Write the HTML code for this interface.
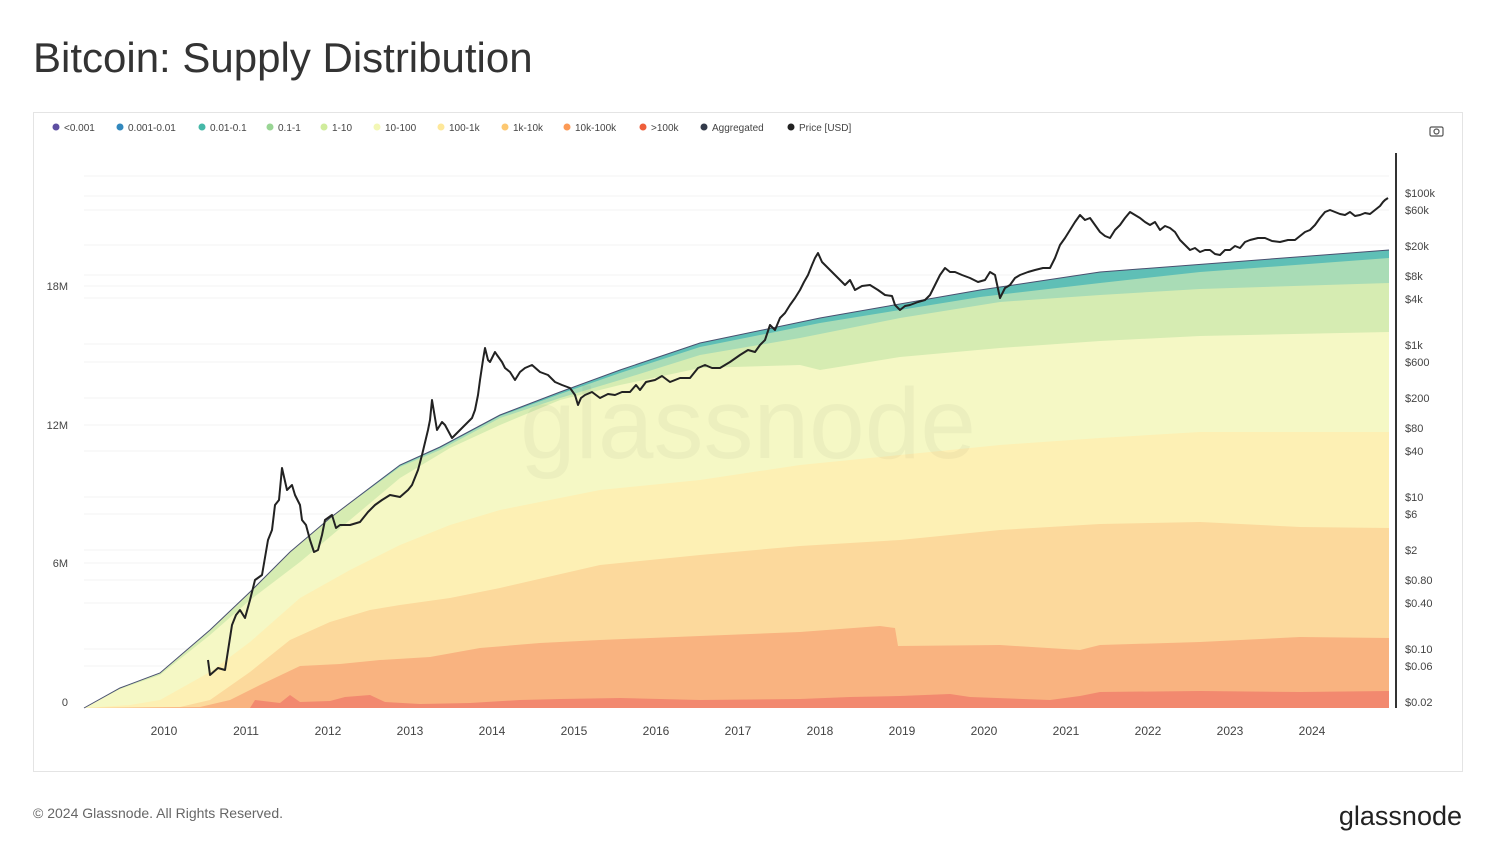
<!DOCTYPE html>
<html><head><meta charset="utf-8"><style>
body{margin:0;background:#fff;font-family:"Liberation Sans",sans-serif;}
</style></head><body>
<svg width="1495" height="861" xmlns="http://www.w3.org/2000/svg" font-family="Liberation Sans, sans-serif">
<rect width="1495" height="861" fill="#fff"/>
<text x="33" y="72" font-size="42" fill="#333">Bitcoin: Supply Distribution</text>
<rect x="33.5" y="112.5" width="1429" height="659" fill="none" stroke="#e4e4e4"/>
<g font-size="10" fill="#444">
<circle cx="56" cy="127" r="3.5" fill="#5e4fa2"/><text x="64" y="131">&lt;0.001</text>
<circle cx="120" cy="127" r="3.5" fill="#3288bd"/><text x="128" y="131">0.001-0.01</text>
<circle cx="202" cy="127" r="3.5" fill="#45b8a8"/><text x="210" y="131">0.01-0.1</text>
<circle cx="270" cy="127" r="3.5" fill="#99d594"/><text x="278" y="131">0.1-1</text>
<circle cx="324" cy="127" r="3.5" fill="#d0ec9c"/><text x="332" y="131">1-10</text>
<circle cx="377" cy="127" r="3.5" fill="#f3f7b5"/><text x="385" y="131">10-100</text>
<circle cx="441" cy="127" r="3.5" fill="#fee89a"/><text x="449" y="131">100-1k</text>
<circle cx="505" cy="127" r="3.5" fill="#fdc871"/><text x="513" y="131">1k-10k</text>
<circle cx="567" cy="127" r="3.5" fill="#fc9a55"/><text x="575" y="131">10k-100k</text>
<circle cx="643" cy="127" r="3.5" fill="#ee5e3a"/><text x="651" y="131">&gt;100k</text>
<circle cx="704" cy="127" r="3.5" fill="#333a4a"/><text x="712" y="131">Aggregated</text>
<circle cx="791" cy="127" r="3.5" fill="#222"/><text x="799" y="131">Price [USD]</text>
</g>
<g fill="none" stroke="#555" stroke-width="1.2"><rect x="1430" y="127" width="13" height="9" rx="1.5"/><circle cx="1436.5" cy="131.5" r="2.5"/></g>
<g stroke="#f3f3f3" stroke-width="1">
<line x1="84" x2="1389" y1="286" y2="286"/><line x1="84" x2="1389" y1="425" y2="425"/><line x1="84" x2="1389" y1="563" y2="563"/>
<line x1="84" x2="1389" y1="176" y2="176"/><line x1="84" x2="1389" y1="196" y2="196"/><line x1="84" x2="1389" y1="210" y2="210"/><line x1="84" x2="1389" y1="245" y2="245"/><line x1="84" x2="1389" y1="275" y2="275"/><line x1="84" x2="1389" y1="298" y2="298"/><line x1="84" x2="1389" y1="344" y2="344"/><line x1="84" x2="1389" y1="362" y2="362"/><line x1="84" x2="1389" y1="398" y2="398"/><line x1="84" x2="1389" y1="451" y2="451"/><line x1="84" x2="1389" y1="497" y2="497"/><line x1="84" x2="1389" y1="514" y2="514"/><line x1="84" x2="1389" y1="550" y2="550"/><line x1="84" x2="1389" y1="580" y2="580"/><line x1="84" x2="1389" y1="603" y2="603"/><line x1="84" x2="1389" y1="649" y2="649"/><line x1="84" x2="1389" y1="666" y2="666"/>
</g>
<polygon fill="#5fbfb6" points="84,708 120,688 160,673 210,630 250,592 290,552 330,518 400,465 440,447 500,415 560,392 620,370 700,343 820,318 980,290 1100,272 1389,250 1389,708"/>
<polygon fill="#a9dcb6" points="84,708 120,688 160,673 210,630 250,592 290,552 330,518 400,466 440,448 500,416 560,394 620,373 700,347 820,323 980,297 1100,283 1200,272 1389,258 1389,708"/>
<polygon fill="#d6ecb2" points="84,708 120,688 160,673 210,630 250,592 290,552 330,518 400,467 440,450 500,418 560,398 620,380 700,355 800,338 900,318 1000,302 1100,295 1200,289 1389,283 1389,708"/>
<polygon fill="#f5f8c5" points="84,708 120,689 160,675 210,635 250,600 300,562 350,520 400,478 450,448 500,425 560,400 620,385 700,368 800,365 820,370 900,357 1000,348 1100,341 1200,336 1389,332 1389,708"/>
<polygon fill="#fdf0b4" points="84,708 130,705 160,700 210,672 250,642 300,598 350,570 400,545 450,525 500,510 600,490 700,480 800,465 900,455 1000,445 1100,438 1200,432 1389,432 1389,708"/>
<polygon fill="#fcd99c" points="84,708 180,707 210,700 250,672 290,640 330,622 370,610 400,605 450,598 500,588 600,565 700,555 800,546 900,540 1000,530 1100,524 1200,522 1300,527 1389,528 1389,708"/>
<polygon fill="#f9b380" points="84,708 200,707 230,700 260,685 300,666 340,664 380,660 430,657 480,648 540,643 600,640 700,636 800,632 880,626 895,628 898,646 1000,645 1080,650 1100,645 1200,642 1300,637 1389,638 1389,708"/>
<polygon fill="#f2896f" points="84,708 250,708 255,700 280,703 290,695 300,702 330,701 345,697 370,695 385,702 420,704 470,703 520,700 560,699 620,698 700,700 800,699 850,697 900,696 950,694 970,697 1050,700 1080,696 1100,692 1200,691 1300,692 1389,691 1389,708"/>
<polyline fill="none" stroke="#4a5070" stroke-width="1" points="84,708 120,688 160,673 210,630 250,592 290,552 330,518 400,465 440,447 500,415 560,392 620,370 700,343 820,318 980,290 1100,272 1389,250"/>
<text x="748" y="458" font-size="100" fill="#000" fill-opacity="0.035" text-anchor="middle">glassnode</text>
<polyline fill="none" stroke="#222" stroke-width="2" stroke-linejoin="round" points="208,660 210,675 218,668 225,670 232,625 236,615 240,610 245,618 250,600 255,580 262,575 268,540 272,530 275,505 279,500 282,468 287,490 292,485 295,495 300,505 302,520 306,525 310,540 314,552 318,550 322,535 325,520 332,515 336,528 340,525 350,525 360,522 368,512 375,505 382,500 390,495 400,497 408,490 412,485 418,470 422,455 428,430 430,420 432,400 435,418 437,430 442,422 445,425 452,438 460,430 465,425 472,418 475,410 478,395 480,380 483,360 485,348 488,360 490,362 495,352 497,355 502,362 505,368 510,372 515,380 520,372 525,368 532,365 540,372 548,375 555,382 562,385 570,388 575,395 578,405 581,398 585,395 592,392 600,398 608,394 615,395 622,392 630,392 636,385 640,390 646,382 655,380 662,376 670,382 680,378 690,378 698,368 705,365 712,368 720,368 730,362 740,355 748,350 755,352 760,345 765,340 770,325 775,330 780,318 785,313 790,305 795,298 800,290 804,282 808,275 812,265 815,258 818,253 822,262 825,265 830,270 835,275 840,280 845,285 850,280 855,290 862,286 870,285 878,290 885,295 892,296 895,305 900,310 905,306 910,305 918,302 925,300 930,295 935,285 940,275 945,268 950,272 955,272 962,275 970,278 978,282 985,280 990,272 995,275 1000,298 1005,288 1010,285 1015,278 1020,275 1028,272 1035,270 1043,268 1050,268 1055,258 1060,245 1065,238 1070,230 1075,222 1080,215 1085,220 1090,218 1095,225 1100,232 1105,236 1110,238 1115,230 1120,225 1125,218 1130,212 1135,215 1140,218 1145,222 1150,225 1155,222 1160,230 1165,226 1170,228 1175,232 1180,240 1185,245 1190,250 1195,248 1200,252 1205,250 1210,250 1215,254 1220,255 1225,250 1230,250 1235,246 1240,248 1245,242 1250,240 1258,238 1265,238 1272,241 1280,242 1288,240 1295,240 1300,236 1305,232 1310,230 1315,225 1320,218 1325,212 1330,210 1335,212 1340,214 1345,215 1350,212 1355,216 1360,215 1365,213 1370,214 1375,210 1380,206 1383,202 1385,200 1388,198"/>
<line x1="1396" y1="153" x2="1396" y2="708" stroke="#333" stroke-width="2"/>
<g font-size="11" fill="#444">
<text x="1405" y="197">$100k</text><text x="1405" y="214">$60k</text><text x="1405" y="250">$20k</text><text x="1405" y="280">$8k</text><text x="1405" y="303">$4k</text><text x="1405" y="349">$1k</text><text x="1405" y="366">$600</text><text x="1405" y="402">$200</text><text x="1405" y="432">$80</text><text x="1405" y="455">$40</text><text x="1405" y="501">$10</text><text x="1405" y="518">$6</text><text x="1405" y="554">$2</text><text x="1405" y="584">$0.80</text><text x="1405" y="607">$0.40</text><text x="1405" y="653">$0.10</text><text x="1405" y="670">$0.06</text><text x="1405" y="706">$0.02</text>
</g>
<g font-size="11" fill="#444" text-anchor="end">
<text x="68" y="290">18M</text><text x="68" y="429">12M</text><text x="68" y="567">6M</text><text x="68" y="706">0</text>
</g>
<g font-size="12" fill="#444" text-anchor="middle">
<text x="164" y="735">2010</text><text x="246" y="735">2011</text><text x="328" y="735">2012</text><text x="410" y="735">2013</text><text x="492" y="735">2014</text><text x="574" y="735">2015</text><text x="656" y="735">2016</text><text x="738" y="735">2017</text><text x="820" y="735">2018</text><text x="902" y="735">2019</text><text x="984" y="735">2020</text><text x="1066" y="735">2021</text><text x="1148" y="735">2022</text><text x="1230" y="735">2023</text><text x="1312" y="735">2024</text>
</g>
<text x="33" y="818" font-size="14" fill="#666">© 2024 Glassnode. All Rights Reserved.</text>
<text x="1462" y="825" font-size="27" fill="#222" text-anchor="end">glassnode</text>
</svg>
</body></html>
